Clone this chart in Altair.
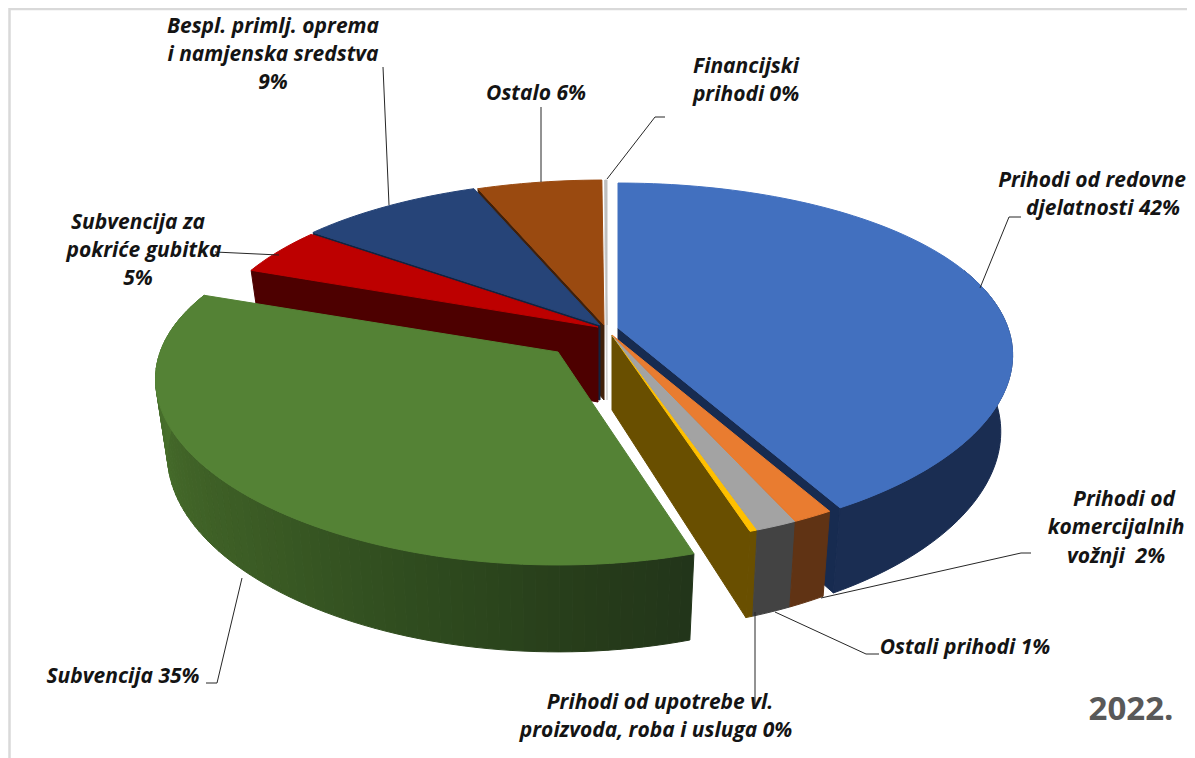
import math
import altair as alt

# ---- values
names = ["Prihodi od redovne djelatnosti", "Prihodi od komercijalnih vožnji", "Ostali prihodi",
         "Prihodi od upotrebe vl. proizvoda, roba i usluga", "Subvencija", "Subvencija za pokriće gubitka",
         "Bespl. primlj. oprema i namjenska sredstva", "Ostalo", "Financijski prihodi"]
shares = [41.8, 2.0, 1.2, 0.3, 35.4, 4.5, 8.8, 5.9, 0.1]
top_colors = ["#4270bf", "#e97c30", "#a3a3a3", "#ffc000", "#548235", "#bd0000", "#264478", "#9a4a10", "#bfbfbf"]
wall_colors = ["#1a2d52", "#603314", "#434343", "#694f00", None, "#4d0000", "#12233f", "#40200a", "#8a8a8a"]
cut_colors = ["#172b50", None, None, "#694f00", None, "#4d0000", "#12233f", "#40200a", "#d0d0d0"]
apex_x = [618, 612, 612, 612, 558, 598, 600, 604, 607]
apex_y = [328, 335, 335, 335, 352, 327, 325, 325, 325]
radial = [1.0, 0.98, 0.98, 0.98, 1.0, 1.0, 1.0, 1.0, 1.0]
radial_x = [1.0, 1.0, 1.0, 1.0, 1.02, 1.0, 1.0, 1.0, 1.0]
draw_order = [8, 7, 6, 5, 0, 3, 2, 1, 4]
green_deg = [163, 175, 195, 220, 245, 265, 290]
green_rgb = [(34, 53, 26), (38, 60, 26), (46, 74, 30), (58, 90, 36), (66, 102, 40), (72, 112, 44), (79, 122, 48)]

label_lines = ["Bespl. primlj. oprema", "i namjenska sredstva", "9%", "Ostalo 6%", "Financijski", "prihodi 0%",
               "Prihodi od redovne", "djelatnosti 42%", "Subvencija za", "pokriće gubitka", "5%",
               "Prihodi od", "komercijalnih", "vožnji\u00a0 2%", "Ostali prihodi 1%",
               "Prihodi od upotrebe vl.", "proizvoda, roba i usluga 0%", "Subvencija 35%"]
label_x = [273, 273, 273, 536, 746, 746, 1092, 1103, 138, 144, 138, 1124, 1116, 1116, 965, 660, 656, 123]
label_y = [27, 55, 83, 94, 67, 95, 181, 209, 223, 251, 279, 500, 528, 557, 648, 703, 731, 677]

leaders = [[(980, 288), (1009, 217), (1021, 217)],
           [(607, 179), (655, 117), (665, 117)],
           [(541, 182), (541, 107)],
           [(389, 205), (383, 67)],
           [(279, 255), (215, 252)],
           [(242, 578), (217, 683), (206, 683)],
           [(775, 612), (866, 654), (879, 654)],
           [(755, 612), (755, 707)],
           [(821, 598), (1021, 553), (1031, 553)]]
frame = [(9.5, 758), (9.5, 9), (1195, 9)]

W, H = 1179, 750
RX, RY, K, THICK = 390.0, 172.5, 0.19, 75.0


def scale(y):
    return 1.0 / (1.0 - K * y)


def point(i, deg, bottom=False):
    t = math.radians(deg)
    x, y = math.sin(t), -math.cos(t)
    s = scale(y)
    r = radial[i]
    px = apex_x[i] + RX * r * radial_x[i] * x * s ** 0.8 * (0.97 if bottom else 1.0)
    py = apex_y[i] + RY * r * y * s + (THICK * s ** 0.7 if bottom else 0.0)
    return [round(px, 2), round(py, 2)]


def apex(i, bottom=False):
    return [apex_x[i], apex_y[i] + (THICK if bottom else 0.0)]


def green_at(deg):
    for k in range(len(green_deg) - 1):
        if deg <= green_deg[k + 1]:
            f = max(0.0, (deg - green_deg[k]) / (green_deg[k + 1] - green_deg[k]))
            rgb = [round(a + (b - a) * f) for a, b in zip(green_rgb[k], green_rgb[k + 1])]
            return "#%02x%02x%02x" % tuple(rgb)
    return "#%02x%02x%02x" % green_rgb[-1]


def poly(ring, fill):
    return {"type": "Feature", "properties": {"fill": fill},
            "geometry": {"type": "Polygon", "coordinates": [ring + [ring[0]]]}}


# slice boundaries in degrees, from the shares; the three narrow exploded slices
# appear slightly narrower in the picture's perspective
bounds = [0.0]
for v in shares:
    bounds.append(bounds[-1] + v * 3.6)
b_end = bounds[1]
raw_2, raw_3, raw_4 = bounds[2], bounds[3], bounds[4]
bounds[2] = b_end + (raw_2 - b_end) * 0.72
bounds[3] = b_end + (raw_3 - b_end) * 0.92
group_end = b_end + (raw_4 - b_end) * 0.92

features = [poly([[8, 8], [8 + W, 8], [8 + W, 8 + H], [8, 8 + H]], "transparent")]
for i in draw_order:
    a0 = bounds[i]
    a1 = group_end if i == 3 else bounds[i + 1]
    # radial cut face on the side that faces the viewer
    if cut_colors[i]:
        edge = a1 if a1 < 180 else a0
        features.append(poly([apex(i), point(i, edge), point(i, edge, True), apex(i, True)], cut_colors[i]))
    # outer wall
    n = max(2, int((a1 - a0) / 1.5))
    steps = [a0 + (a1 - a0) * k / n for k in range(n + 1)]
    near = [d for d in steps if -math.cos(math.radians(d)) > -0.36]
    if wall_colors[i] and len(near) > 1:
        ring = [point(i, d) for d in near] + [point(i, d, True) for d in reversed(near)]
        features.append(poly(ring, wall_colors[i]))
    elif not wall_colors[i]:
        for d0, d1 in zip(near[:-1], near[1:]):
            features.append(poly([point(i, d0), point(i, d1), point(i, d1, True), point(i, d0, True)], green_at(d0)))
    # top surface
    features.append(poly([apex(i)] + [point(i, d) for d in steps], top_colors[i]))

shapes = alt.Chart(alt.Data(values=features)).mark_geoshape(strokeWidth=1).encode(
    fill=alt.Fill("properties.fill:N", scale=None, legend=None),
    stroke=alt.Stroke("properties.fill:N", scale=None, legend=None),
).project(type="identity")

x_enc = alt.X("x:Q", scale=alt.Scale(domain=[8, 8 + W], nice=False, zero=False), axis=None)
y_enc = alt.Y("y:Q", scale=alt.Scale(domain=[8 + H, 8], nice=False, zero=False), axis=None)

line_rows = [{"id": n, "step": k, "x": p[0], "y": p[1]} for n, pts in enumerate(leaders) for k, p in enumerate(pts)]
lines = alt.Chart(alt.Data(values=line_rows)).mark_line(color="#262626", strokeWidth=1, clip=False).encode(
    x=x_enc, y=y_enc, detail="id:N", order="step:Q")

frame_rows = [{"step": k, "x": p[0], "y": p[1]} for k, p in enumerate(frame)]
frame_line = alt.Chart(alt.Data(values=frame_rows)).mark_line(color="#d9d9d9", strokeWidth=2.5).encode(
    x=x_enc, y=y_enc, order="step:Q")

text_rows = [{"t": t, "x": a, "y": b} for t, a, b in zip(label_lines, label_x, label_y)]
texts = alt.Chart(alt.Data(values=text_rows)).mark_text(
    font="Open Sans", fontSize=21, fontWeight="bold", fontStyle="italic", color="#141414",
    align="center", baseline="middle").encode(x=x_enc, y=y_enc, text="t:N")

year = alt.Chart(alt.Data(values=[{"t": "2022.", "x": 1131, "y": 710}])).mark_text(
    font="Open Sans", fontSize=33, fontWeight="bold", color="#595959",
    align="center", baseline="middle").encode(x=x_enc, y=y_enc, text="t:N")

chart = alt.layer(shapes, frame_line, lines, texts, year).resolve_scale(
    fill="independent", stroke="independent"
).properties(width=W, height=H, padding=0, background="white", autosize=alt.AutoSizeParams(type="none")
).configure_view(strokeWidth=0)

chart.save("out.html", embed_options={"renderer": "svg", "actions": False})
